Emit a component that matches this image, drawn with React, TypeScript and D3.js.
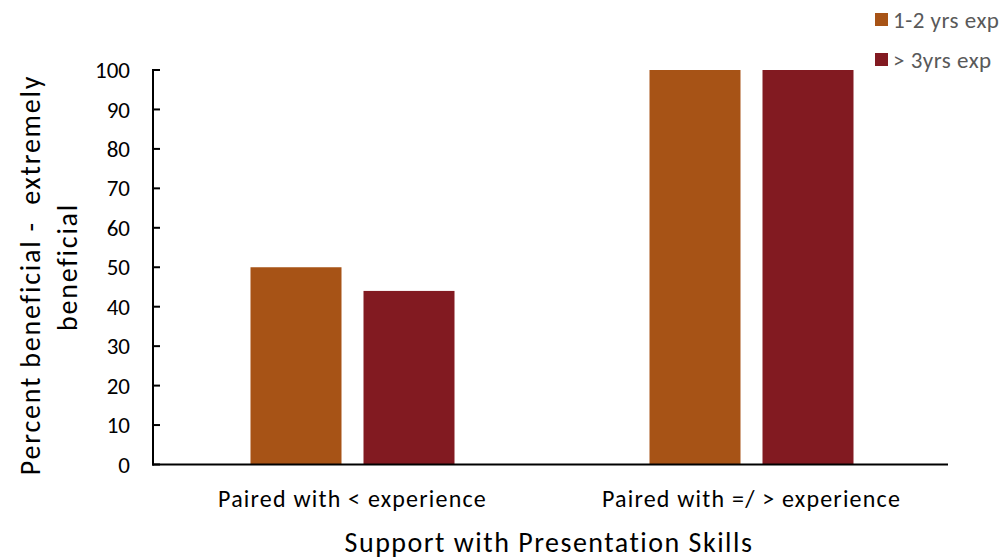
import React from "react";
import * as d3 from "d3";

const categories = ["Paired with < experience", "Paired with =/ > experience"];
const seriesNames = ["1-2 yrs exp", "> 3yrs exp"];
const juniorValues = [50, 100];
const seniorValues = [44, 100];
const yTicks = [0, 10, 20, 30, 40, 50, 60, 70, 80, 90, 100];
const colors = ["#A75316", "#821A21"];

const W = 1000;
const H = 559;
const FONT = "Carlito, Calibri, 'Open Sans', 'Liberation Sans', sans-serif";

export default function App() {
  const left = 153;
  const right = 951;
  const top = 70;
  const bottom = 464.5;
  const groupW = 204;

  const x = d3.scaleBand<string>().domain(categories).range([left, right]).padding(0);
  // two bars of 91px separated by a 22px gap inside each 204px group
  const inner = d3.scaleBand<string>().domain(seriesNames).range([0, groupW]).paddingInner(22 / 113);
  const y = d3.scaleLinear().domain([0, 100]).range([bottom, top]);

  const series = [juniorValues, seniorValues];

  return (
    <svg width={W} height={H} style={{ position: "absolute", left: 0, top: 0, background: "#fff" }}>
      {/* bars */}
      {categories.map((c, ci) => {
        const gx = (x(c) as number) + (x.bandwidth() - groupW) / 2;
        return series.map((vals, si) => (
          <rect
            key={`${ci}-${si}`}
            x={gx + (inner(seriesNames[si]) as number)}
            y={y(vals[ci])}
            width={inner.bandwidth()}
            height={bottom - y(vals[ci])}
            fill={colors[si]}
          />
        ));
      })}

      {/* y axis */}
      <line x1={left} x2={left} y1={top - 1} y2={bottom + 1} stroke="#000" strokeWidth={2} />
      {yTicks.map((t) => (
        <g key={t}>
          <line x1={left} x2={left + 7} y1={y(t)} y2={y(t)} stroke="#000" strokeWidth={2} />
          <text
            x={left - 23}
            y={y(t)}
            dy="0.35em"
            textAnchor="end"
            fontFamily={FONT}
            fontSize={23}
            fill="#000"
          >
            {t}
          </text>
        </g>
      ))}

      {/* x axis */}
      <line x1={left - 1} x2={948} y1={bottom} y2={bottom} stroke="#000" strokeWidth={2} />
      {categories.map((c) => (
        <text
          key={c}
          x={(x(c) as number) + x.bandwidth() / 2}
          y={507}
          textAnchor="middle"
          fontFamily={FONT}
          fontSize={24}
          letterSpacing={1.2}
          fill="#000"
        >
          {c}
        </text>
      ))}

      {/* axis titles */}
      <text
        x={549}
        y={552}
        textAnchor="middle"
        fontFamily={FONT}
        fontSize={28}
        letterSpacing={1.5}
        fill="#000"
      >
        Support with Presentation Skills
      </text>
      <g transform={`translate(40, 275) rotate(-90)`}>
        <text x={0} y={0} textAnchor="middle" fontFamily={FONT} fontSize={28} letterSpacing={1.8} fill="#000" style={{ whiteSpace: "pre" }}>
          Percent beneficial -  extremely
        </text>
        <text x={8} y={37} textAnchor="middle" fontFamily={FONT} fontSize={28} letterSpacing={1.8} fill="#000">
          beneficial
        </text>
      </g>

      {/* legend */}
      {seriesNames.map((s, i) => (
        <g key={s} transform={`translate(875, ${13 + i * 40})`}>
          <rect x={0} y={0} width={13} height={13} fill={colors[i]} />
          <text x={18} y={6.5} dy="0.35em" fontFamily={FONT} fontSize={23} letterSpacing={0.5} fill="#595959">
            {s}
          </text>
        </g>
      ))}
    </svg>
  );
}
